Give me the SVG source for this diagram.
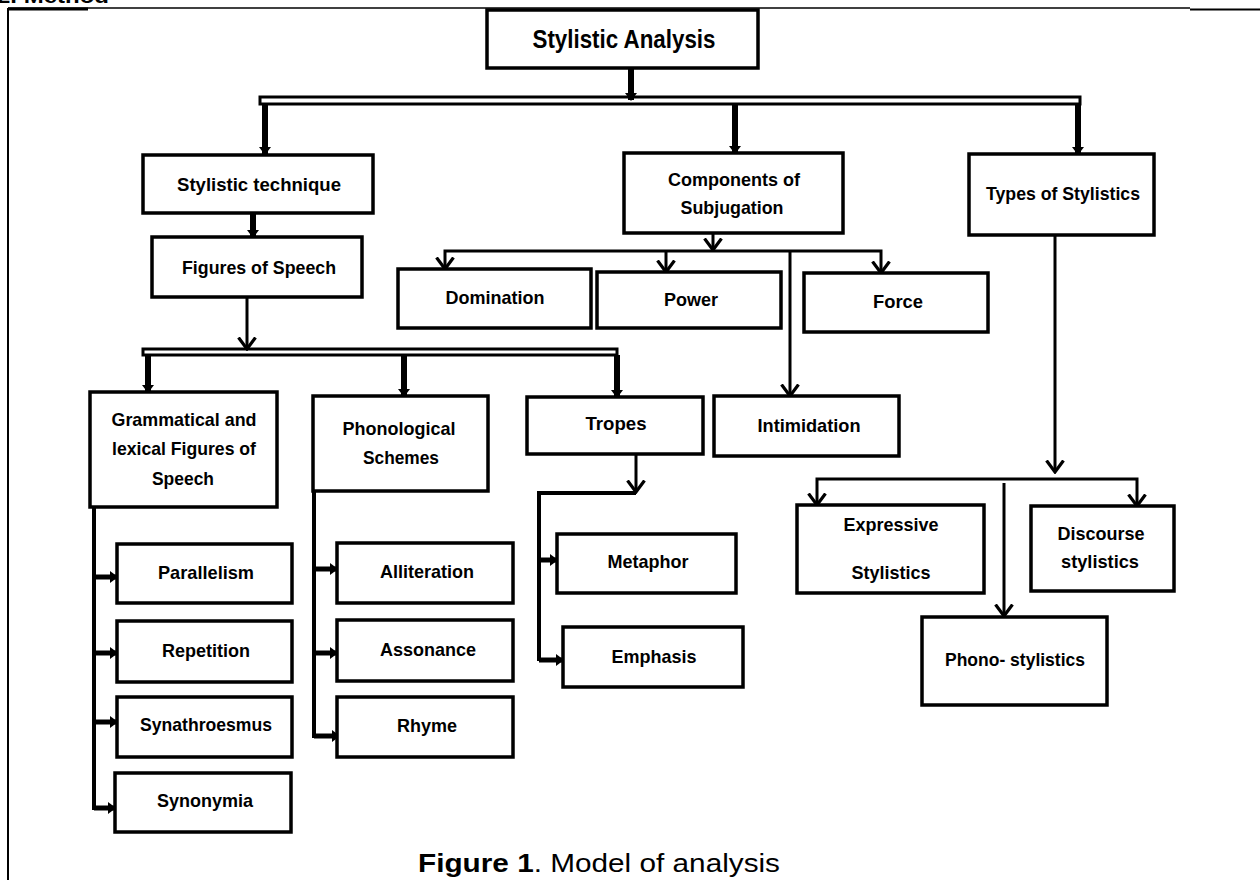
<svg xmlns="http://www.w3.org/2000/svg" width="1260" height="880" viewBox="0 0 1260 880">
<style>
.box{fill:#fff;stroke:#000;stroke-width:3.5}
.t{font-family:"Liberation Sans",Arial,sans-serif;font-weight:bold;font-size:19px;fill:#000;text-anchor:middle}
.big{font-size:26px}
.thick{fill:none;stroke:#000;stroke-width:6}
.mid{fill:none;stroke:#000;stroke-width:5}
.thin{fill:none;stroke:#000;stroke-width:3}
.frame{fill:none;stroke:#000}
.cap{font-family:"Liberation Sans",Arial,sans-serif;font-size:26px;fill:#000}
</style>
<defs>
<marker id="tri" viewBox="0 0 8 12" refX="7" refY="6" markerWidth="8" markerHeight="12" markerUnits="userSpaceOnUse" orient="auto">
<path d="M0,0 L8,6 L0,12 Z" fill="#000"/>
</marker>
<marker id="vee" viewBox="0 0 14 20" refX="12.5" refY="10" markerWidth="14" markerHeight="20" markerUnits="userSpaceOnUse" orient="auto">
<path d="M1,1.5 L12.5,10 L1,18.5" fill="none" stroke="#000" stroke-width="3.2"/>
</marker>
</defs>
<rect width="1260" height="880" fill="#fff"/>
<text x="-3" y="3" class="t" style="text-anchor:start;font-size:20px" textLength="112" lengthAdjust="spacingAndGlyphs">2. Method</text>
<g id="frame">
<line class="frame" x1="8" y1="8" x2="1190" y2="8" stroke-width="1.5"/>
<line class="frame" x1="8" y1="9" x2="88" y2="9" stroke-width="3"/>
<line class="frame" x1="1190" y1="9.5" x2="1260" y2="9.5" stroke-width="2"/>
<line class="frame" x1="8" y1="8" x2="8" y2="880" stroke-width="2"/>
</g>
<g id="connectors">
<line class="thick" x1="631" y1="68" x2="631" y2="100" marker-end="url(#tri)"/>
<rect class="thin" x="260" y="97" width="820" height="7"/>
<line class="thick" x1="265" y1="104" x2="265" y2="154" marker-end="url(#tri)"/>
<line class="thick" x1="735" y1="104" x2="735" y2="153" marker-end="url(#tri)"/>
<line class="thick" x1="1078" y1="104" x2="1078" y2="154" marker-end="url(#tri)"/>
<line class="thick" x1="253" y1="213" x2="253" y2="237" marker-end="url(#tri)"/>
<line class="thin" x1="247" y1="297" x2="247" y2="349" marker-end="url(#vee)"/>
<rect class="thin" x="143" y="349" width="474" height="6"/>
<line class="thick" x1="148" y1="355" x2="148" y2="392" marker-end="url(#tri)"/>
<line class="thick" x1="404" y1="355" x2="404" y2="396" marker-end="url(#tri)"/>
<line class="thick" x1="617" y1="355" x2="617" y2="397" marker-end="url(#tri)"/>
<line class="thin" x1="713" y1="233" x2="713" y2="250" marker-end="url(#vee)"/>
<path class="thin" d="M713,251 L445,251 L445,269" marker-end="url(#vee)"/>
<path class="thin" d="M713,251 L881,251 L881,273" marker-end="url(#vee)"/>
<line class="thin" x1="666" y1="251" x2="666" y2="272" marker-end="url(#vee)"/>
<line class="thin" x1="790" y1="251" x2="790" y2="396" marker-end="url(#vee)"/>
<line class="thin" x1="1055" y1="235" x2="1055" y2="472" marker-end="url(#vee)"/>
<path class="thin" d="M1055,479 L817,479 L817,505" marker-end="url(#vee)"/>
<path class="thin" d="M1055,479 L1137,479 L1137,506" marker-end="url(#vee)"/>
<line class="thin" x1="1004" y1="483" x2="1004" y2="616" marker-end="url(#vee)"/>
<line class="mid" x1="94" y1="507" x2="94" y2="810" style="stroke-width:4"/>
<line class="mid" x1="94" y1="577" x2="117" y2="577" marker-end="url(#tri)"/>
<line class="mid" x1="94" y1="653" x2="117" y2="653" marker-end="url(#tri)"/>
<line class="mid" x1="94" y1="722" x2="117" y2="722" marker-end="url(#tri)"/>
<line class="mid" x1="94" y1="808" x2="115" y2="808" marker-end="url(#tri)"/>
<line class="mid" x1="314" y1="491" x2="314" y2="738" style="stroke-width:4"/>
<line class="mid" x1="314" y1="569" x2="337" y2="569" marker-end="url(#tri)"/>
<line class="mid" x1="314" y1="653" x2="337" y2="653" marker-end="url(#tri)"/>
<line class="mid" x1="314" y1="736" x2="339" y2="736" marker-end="url(#tri)"/>
<line class="thin" x1="636" y1="454" x2="636" y2="492" marker-end="url(#vee)"/>
<path class="thin" d="M636,493 L539,493 L539,661" style="stroke-width:4"/>
<line class="mid" x1="539" y1="560" x2="557" y2="560" marker-end="url(#tri)"/>
<line class="mid" x1="539" y1="660" x2="563" y2="660" marker-end="url(#tri)"/>
</g>
<g id="n-stylistic-analysis"><rect class="box" x="487" y="10" width="271" height="58"/><text class="t big" x="624" y="48" textLength="183" lengthAdjust="spacingAndGlyphs">Stylistic Analysis</text></g>
<g id="n-stylistic-technique"><rect class="box" x="143" y="155" width="230" height="58"/><text class="t" x="259" y="191" textLength="164" lengthAdjust="spacingAndGlyphs">Stylistic technique</text></g>
<g id="n-figures"><rect class="box" x="152" y="237" width="210" height="60"/><text class="t" x="259" y="274" textLength="154" lengthAdjust="spacingAndGlyphs">Figures of Speech</text></g>
<g id="n-components"><rect class="box" x="624" y="153" width="219" height="80"/><text class="t" x="734" y="186" textLength="132" lengthAdjust="spacingAndGlyphs">Components of</text><text class="t" x="732" y="214" textLength="103" lengthAdjust="spacingAndGlyphs">Subjugation</text></g>
<g id="n-types"><rect class="box" x="969" y="154" width="185" height="81"/><text class="t" x="1063" y="200" textLength="154" lengthAdjust="spacingAndGlyphs">Types of Stylistics</text></g>
<g id="n-domination"><rect class="box" x="398" y="269" width="193" height="59"/><text class="t" x="495" y="304" textLength="99" lengthAdjust="spacingAndGlyphs">Domination</text></g>
<g id="n-power"><rect class="box" x="597" y="272" width="184" height="56"/><text class="t" x="691" y="306" textLength="54" lengthAdjust="spacingAndGlyphs">Power</text></g>
<g id="n-force"><rect class="box" x="804" y="273" width="184" height="59"/><text class="t" x="898" y="308" textLength="50" lengthAdjust="spacingAndGlyphs">Force</text></g>
<g id="n-intimidation"><rect class="box" x="714" y="396" width="185" height="60"/><text class="t" x="809" y="432" textLength="103" lengthAdjust="spacingAndGlyphs">Intimidation</text></g>
<g id="n-grammatical"><rect class="box" x="90" y="392" width="187" height="115"/><text class="t" x="184" y="426" textLength="145" lengthAdjust="spacingAndGlyphs">Grammatical and</text><text class="t" x="184" y="455" textLength="144" lengthAdjust="spacingAndGlyphs">lexical Figures of</text><text class="t" x="183" y="485" textLength="62" lengthAdjust="spacingAndGlyphs">Speech</text></g>
<g id="n-phonological"><rect class="box" x="313" y="396" width="175" height="95"/><text class="t" x="399" y="435" textLength="113" lengthAdjust="spacingAndGlyphs">Phonological</text><text class="t" x="401" y="464" textLength="76" lengthAdjust="spacingAndGlyphs">Schemes</text></g>
<g id="n-tropes"><rect class="box" x="527" y="397" width="176" height="57"/><text class="t" x="616" y="430" textLength="61" lengthAdjust="spacingAndGlyphs">Tropes</text></g>
<g id="n-parallelism"><rect class="box" x="117" y="544" width="175" height="59"/><text class="t" x="206" y="579" textLength="96" lengthAdjust="spacingAndGlyphs">Parallelism</text></g>
<g id="n-repetition"><rect class="box" x="117" y="621" width="175" height="61"/><text class="t" x="206" y="657" textLength="88" lengthAdjust="spacingAndGlyphs">Repetition</text></g>
<g id="n-synathroesmus"><rect class="box" x="117" y="697" width="175" height="60"/><text class="t" x="206" y="731" textLength="132" lengthAdjust="spacingAndGlyphs">Synathroesmus</text></g>
<g id="n-synonymia"><rect class="box" x="115" y="773" width="176" height="59"/><text class="t" x="205" y="807" textLength="96" lengthAdjust="spacingAndGlyphs">Synonymia</text></g>
<g id="n-alliteration"><rect class="box" x="337" y="543" width="176" height="60"/><text class="t" x="427" y="578" textLength="94" lengthAdjust="spacingAndGlyphs">Alliteration</text></g>
<g id="n-assonance"><rect class="box" x="337" y="620" width="176" height="61"/><text class="t" x="428" y="656" textLength="96" lengthAdjust="spacingAndGlyphs">Assonance</text></g>
<g id="n-rhyme"><rect class="box" x="337" y="697" width="176" height="60"/><text class="t" x="427" y="732" textLength="60" lengthAdjust="spacingAndGlyphs">Rhyme</text></g>
<g id="n-metaphor"><rect class="box" x="557" y="534" width="179" height="59"/><text class="t" x="648" y="568" textLength="81" lengthAdjust="spacingAndGlyphs">Metaphor</text></g>
<g id="n-emphasis"><rect class="box" x="563" y="627" width="180" height="60"/><text class="t" x="654" y="663" textLength="85" lengthAdjust="spacingAndGlyphs">Emphasis</text></g>
<g id="n-expressive"><rect class="box" x="797" y="505" width="187" height="88"/><text class="t" x="891" y="531" textLength="95" lengthAdjust="spacingAndGlyphs">Expressive</text><text class="t" x="891" y="579" textLength="79" lengthAdjust="spacingAndGlyphs">Stylistics</text></g>
<g id="n-discourse"><rect class="box" x="1031" y="506" width="143" height="85"/><text class="t" x="1101" y="540" textLength="87" lengthAdjust="spacingAndGlyphs">Discourse</text><text class="t" x="1100" y="568" textLength="78" lengthAdjust="spacingAndGlyphs">stylistics</text></g>
<g id="n-phono"><rect class="box" x="922" y="617" width="185" height="88"/><text class="t" x="1015" y="666" textLength="140" lengthAdjust="spacingAndGlyphs">Phono- stylistics</text></g>
<g id="caption">
<text class="cap" x="418" y="872" textLength="362" lengthAdjust="spacingAndGlyphs"><tspan font-weight="bold">Figure 1</tspan>. Model of analysis</text>
</g>
</svg>
